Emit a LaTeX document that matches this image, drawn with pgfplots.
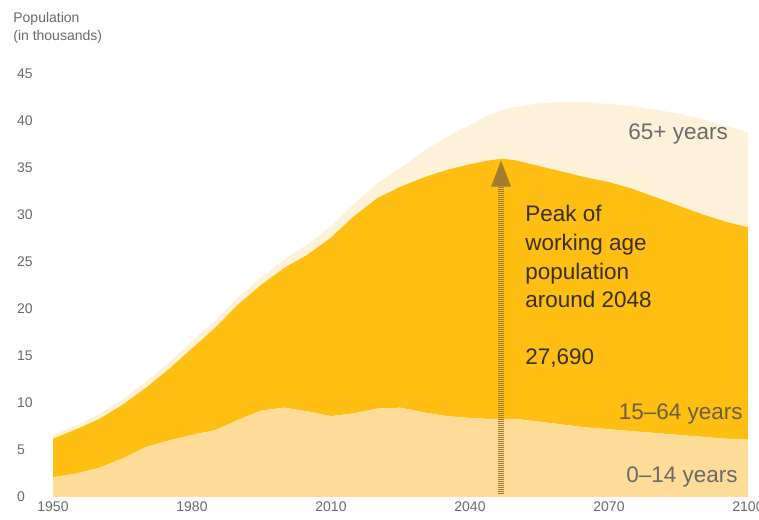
\documentclass[border=0pt]{standalone}
\usepackage{pgfplots}
\pgfplotsset{compat=1.18}
\usepackage{pgfplotstable}
\usetikzlibrary{arrows.meta}
\usepackage{fontspec}
\setmainfont{Liberation Sans}
\definecolor{kidc}{HTML}{FEDC98}
\definecolor{workc}{HTML}{FEBE12}
\definecolor{oldc}{HTML}{FEF1D9}
\definecolor{tickc}{HTML}{6A6A6A}
\definecolor{midt}{HTML}{6B5F40}
\definecolor{darkt}{HTML}{3A3020}
\definecolor{arrc}{HTML}{A57C2C}
\pgfplotstableread{
year kids work old
1950 2.1 4.1 0.4
1955 2.5 4.7 0.4
1960 3.1 5.2 0.5
1965 4.1 5.7 0.6
1970 5.3 6.3 0.7
1975 6.0 7.6 0.7
1980 6.6 9.2 0.8
1985 7.1 10.9 0.8
1990 8.2 12.3 0.8
1995 9.2 13.4 0.8
2000 9.5 14.9 0.9
2005 9.1 16.7 1.1
2010 8.6 19.0 1.2
2015 8.9 21.0 1.3
2020 9.4 22.4 1.6
2025 9.5 23.5 2.0
2030 9.0 25.0 2.8
2035 8.6 26.2 3.5
2040 8.4 27.0 4.2
2044 8.3 27.5 4.8
2047 8.3 27.69 5.2
2050 8.3 27.5 5.7
2055 8.0 27.2 6.7
2060 7.7 26.9 7.4
2065 7.4 26.6 8.0
2070 7.2 26.3 8.3
2075 7.0 25.8 8.8
2080 6.8 25.1 9.3
2085 6.6 24.4 9.8
2090 6.4 23.7 10.1
2095 6.2 23.1 10.2
2100 6.1 22.6 10.1
}\popdata
\begin{document}
\begin{tikzpicture}
\begin{axis}[
  scale only axis, width=695pt, height=423pt,
  xmin=1950, xmax=2100, ymin=0, ymax=45,
  clip=false,
  stack plots=y,
  axis line style={draw=none},
  tick style={draw=none},
  xtick={1950,1980,2010,2040,2070,2100},
  ytick={0,5,...,45},
  /pgf/number format/assume math mode=true,
  xticklabel={\pgfmathprintnumber[1000 sep={}]{\tick}},
  yticklabel style={anchor=west, inner sep=0pt, xshift=-36pt, font=\fontsize{14}{16}\selectfont, text=tickc},
  xticklabel style={anchor=north, inner sep=0pt, yshift=-5pt, font=\fontsize{14}{16}\selectfont, text=tickc},
]
\addplot[fill=kidc, draw=none] table[x=year, y=kids] {\popdata} \closedcycle;
\addplot[fill=workc, draw=none] table[x=year, y=work] {\popdata} \closedcycle;
\addplot[fill=oldc, draw=none] table[x=year, y=old] {\popdata} \closedcycle;

\coordinate (A0) at (axis cs:2046.7,0.3);
\coordinate (A1) at (axis cs:2046.7,35.9);
\coordinate (T1) at (axis cs:1941.4,50.43);
\coordinate (T2) at (axis cs:1941.4,48.6);
\coordinate (L65) at (axis cs:2095.7,37.98);
\coordinate (L15) at (axis cs:2098.9,8.19);
\coordinate (L0) at (axis cs:2097.8,1.49);
\coordinate (P1) at (axis cs:2051.9,29.29);
\coordinate (P2) at (axis cs:2051.9,26.17);
\coordinate (P3) at (axis cs:2051.9,23.09);
\coordinate (P4) at (axis cs:2051.9,20.11);
\coordinate (P5) at (axis cs:2051.9,14.04);
\coordinate (BBa) at (axis cs:1938.56,52.87);
\coordinate (BBb) at (axis cs:2102.38,-2.447);
\end{axis}

\draw[arrc, line width=5.5pt, dash pattern=on 1pt off 1pt, -{Triangle[width=18pt,length=27pt]}] (A0) -- (A1);

\node[anchor=base west, inner sep=0pt, text=tickc, font=\fontsize{14}{16}\selectfont] at (T1) {Population};
\node[anchor=base west, inner sep=0pt, text=tickc, font=\fontsize{14}{16}\selectfont] at (T2) {(in thousands)};

\node[anchor=base east, inner sep=0pt, text=tickc, font=\fontsize{22.5}{27}\selectfont] at (L65) {65+ years};
\node[anchor=base east, inner sep=0pt, text=midt, font=\fontsize{22.5}{27}\selectfont] at (L15) {15–64 years};
\node[anchor=base east, inner sep=0pt, text=tickc, font=\fontsize{22.5}{27}\selectfont] at (L0) {0–14 years};

\node[anchor=base west, inner sep=0pt, text=darkt, font=\fontsize{22.5}{27}\selectfont] at (P1) {Peak of};
\node[anchor=base west, inner sep=0pt, text=darkt, font=\fontsize{22.5}{27}\selectfont] at (P2) {working age};
\node[anchor=base west, inner sep=0pt, text=darkt, font=\fontsize{22.5}{27}\selectfont] at (P3) {population};
\node[anchor=base west, inner sep=0pt, text=darkt, font=\fontsize{22.5}{27}\selectfont] at (P4) {around 2048};
\node[anchor=base west, inner sep=0pt, text=darkt, font=\fontsize{22.5}{27}\selectfont] at (P5) {27,690};

\pgfresetboundingbox
\path[use as bounding box] (BBa) rectangle (BBb);
\end{tikzpicture}
\end{document}
